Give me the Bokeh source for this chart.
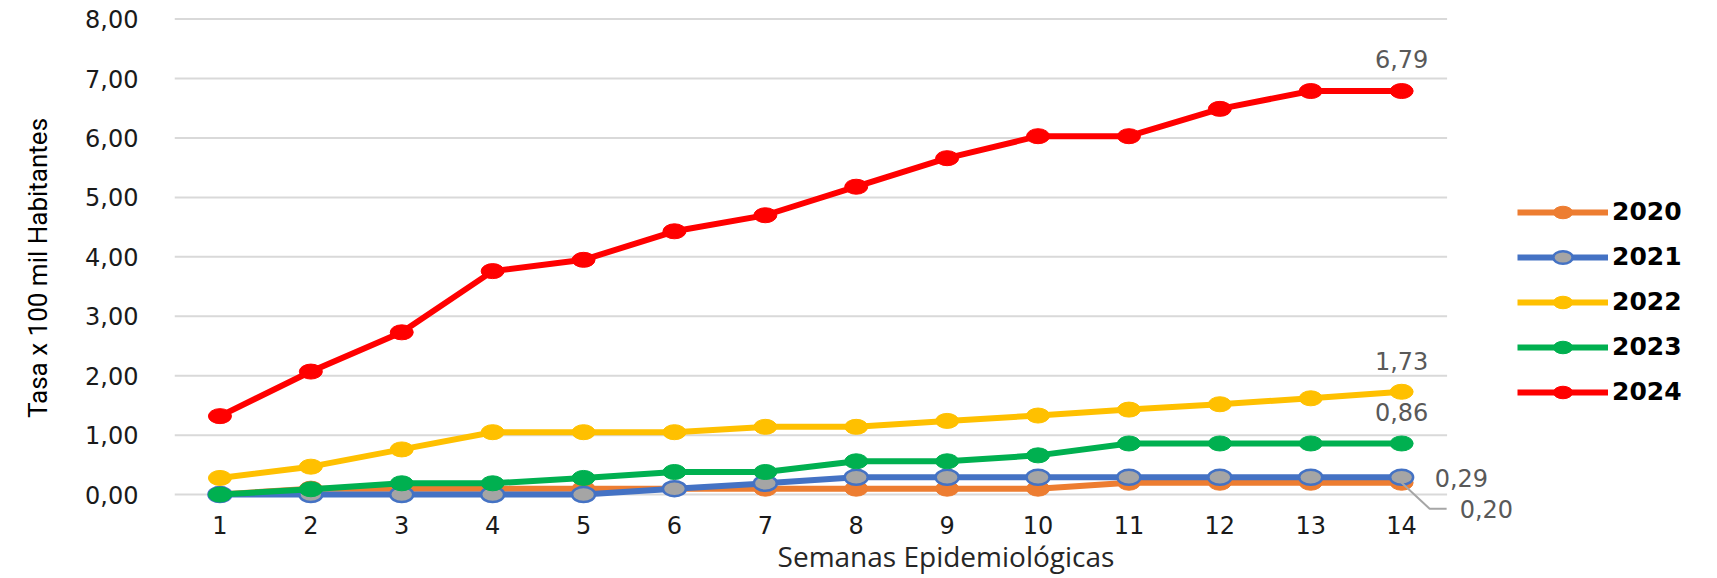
from bokeh.plotting import figure
from bokeh.models import FixedTicker, Label, Legend, LegendItem
from bokeh.embed import file_html
from bokeh.resources import INLINE

# ---- data ----
weeks = list(range(1, 15))
years = ["2020", "2021", "2022", "2023", "2024"]
rate_2020 = [0.00, 0.10, 0.10, 0.10, 0.10, 0.10, 0.10, 0.10, 0.10, 0.10, 0.20, 0.20, 0.20, 0.20]
rate_2021 = [0.00, 0.00, 0.00, 0.00, 0.00, 0.10, 0.19, 0.29, 0.29, 0.29, 0.29, 0.29, 0.29, 0.29]
rate_2022 = [0.28, 0.47, 0.76, 1.05, 1.05, 1.05, 1.14, 1.14, 1.24, 1.33, 1.43, 1.52, 1.62, 1.73]
rate_2023 = [0.00, 0.09, 0.19, 0.19, 0.28, 0.38, 0.38, 0.56, 0.56, 0.66, 0.86, 0.86, 0.86, 0.86]
rate_2024 = [1.32, 2.07, 2.73, 3.76, 3.95, 4.43, 4.70, 5.18, 5.66, 6.03, 6.03, 6.49, 6.79, 6.79]
y_ticks = [0, 1, 2, 3, 4, 5, 6, 7, 8]
y_tick_labels = ["0,00", "1,00", "2,00", "3,00", "4,00", "5,00", "6,00", "7,00", "8,00"]
x_tick_labels = [str(w) for w in weeks]

series = [rate_2020, rate_2021, rate_2022, rate_2023, rate_2024]
line_colors = ["#ED7D31", "#4472C4", "#FFC000", "#00B050", "#FF0000"]
fill_colors = ["#ED7D31", "#A5A5A5", "#FFC000", "#00B050", "#FF0000"]

def fmt(v):
    return f"{v:.2f}".replace(".", ",")

X_START, X_END = 0.5, 17.475     # frame extends to the right edge (legend area)
Y_START, Y_END = -0.52, 8.145

p = figure(width=1717, height=578, output_backend="svg", toolbar_location=None,
           x_range=(X_START, X_END), y_range=(Y_START, Y_END),
           min_border_left=174, min_border_right=0, min_border_top=10, min_border_bottom=53)
p.outline_line_color = None
p.background_fill_color = "white"
p.border_fill_color = "white"

p.xgrid.grid_line_color = None
p.ygrid.grid_line_color = None
# horizontal gridlines limited to the week span
p.segment(x0=weeks[0] - 0.5, x1=weeks[-1] + 0.5, y0=y_ticks, y1=y_ticks,
          line_color="#D9D9D9", line_width=2)

p.yaxis.ticker = FixedTicker(ticks=y_ticks)
p.yaxis.major_label_overrides = {t: l for t, l in zip(y_ticks, y_tick_labels)}
p.xaxis.ticker = FixedTicker(ticks=weeks)
p.xaxis.major_label_overrides = {w: l for w, l in zip(weeks, x_tick_labels)}
for ax in (p.xaxis, p.yaxis):
    ax.axis_line_color = None
    ax.major_tick_line_color = None
    ax.minor_tick_line_color = None
    ax.major_label_text_font = "DejaVu Sans"
    ax.major_label_text_font_size = "24px"
    ax.major_label_text_color = "#1a1a1a"
p.yaxis.major_label_standoff = 30
p.xaxis.major_label_standoff = -16

p.yaxis.axis_label = "Tasa x 100 mil Habitantes"
p.yaxis.axis_label_text_font = "Roboto"
p.yaxis.axis_label_text_font_size = "26px"
p.yaxis.axis_label_text_font_style = "normal"
p.yaxis.axis_label_text_color = "#000000"
p.yaxis.axis_label_standoff = 29

p.xaxis.axis_label = "Semanas Epidemiológicas"
p.xaxis.axis_label_text_font = "Open Sans"
p.xaxis.axis_label_text_font_size = "28px"
p.xaxis.axis_label_text_font_style = "normal"
p.xaxis.axis_label_text_color = "#262626"
p.xaxis.axis_label_standoff = 0

items = []
for yr, vals, lc, fc in zip(years, series, line_colors, fill_colors):
    r1 = p.line(weeks, vals, line_color=lc, line_width=6)
    r2 = p.ellipse(weeks, vals, width=23, height=15, width_units="screen", height_units="screen",
                   fill_color=fc, line_color=lc, line_width=2.5 if yr == "2021" else 1)
    items.append(LegendItem(label=yr, renderers=[r1, r2]))

legend = Legend(items=items, location=(1343, 119), orientation="vertical",
                glyph_width=91, glyph_height=24, label_height=24, spacing=16,
                label_standoff=4, padding=0, margin=0,
                label_text_font="DejaVu Sans", label_text_font_size="25px",
                label_text_font_style="bold", label_text_color="#000000",
                border_line_color=None, background_fill_alpha=0)
p.add_layout(legend, "center")

# data labels for the last week
last = {yr: vals[-1] for yr, vals in zip(years, series)}
lab_style = dict(text_font="DejaVu Sans", text_font_size="24px", text_color="#595959",
                 text_baseline="middle")
x_last = weeks[-1]
p.add_layout(Label(x=x_last, y=last["2024"], text=fmt(last["2024"]), text_align="center", y_offset=32, **lab_style))
p.add_layout(Label(x=x_last, y=last["2022"], text=fmt(last["2022"]), text_align="center", y_offset=31, **lab_style))
p.add_layout(Label(x=x_last, y=last["2023"], text=fmt(last["2023"]), text_align="center", y_offset=31, **lab_style))
p.add_layout(Label(x=x_last, y=last["2021"], text=fmt(last["2021"]), text_align="left", x_offset=33, y_offset=-1, **lab_style))
p.add_layout(Label(x=x_last, y=last["2020"], text=fmt(last["2020"]), text_align="left", x_offset=58, y_offset=-26, **lab_style))

# leader line for the 2020 label (pixel offsets converted to data units)
px_x = 90.9
px_y = 59.43
p.line([x_last, x_last + 28 / px_x, x_last + 45 / px_x],
       [last["2020"], last["2020"] - 26 / px_y, last["2020"] - 26 / px_y],
       line_color="#A6A6A6", line_width=2)

open("out.html", "w").write(file_html(p, INLINE))
